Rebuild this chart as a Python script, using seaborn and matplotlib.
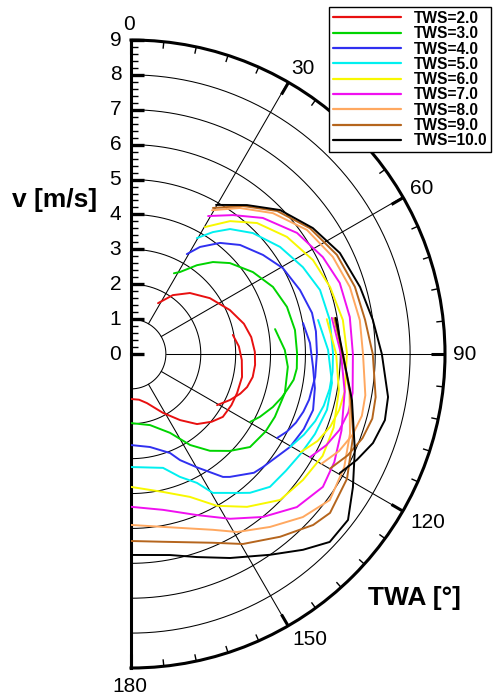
import numpy as np
import pandas as pd
import matplotlib
matplotlib.use("Agg")
import matplotlib.pyplot as plt
from matplotlib.lines import Line2D
from matplotlib.transforms import IdentityTransform
import seaborn as sns

# True wind speeds and line colours
TWS = [2.0, 3.0, 4.0, 5.0, 6.0, 7.0, 8.0, 9.0, 10.0]
COLORS = ["#e81010", "#00d400", "#3030f0", "#00f0f0", "#f8f800",
          "#f010f0", "#ffa860", "#b5651d", "#000000"]

# Upwind branch: true wind angle [deg] and boat speed [m/s]
UP_TWA = [
    [28, 35.4, 44, 54.7, 66, 75, 82, 89, 95, 100.7, 105.9, 110, 114.9, 120.7],
    [28, 30.9, 36.6, 41.7, 47.4, 56.1, 64.7, 73.2, 81.7, 89.7, 95, 99, 102, 106, 110.5, 116, 119.7],
    [29.2, 32.8, 38.7, 45, 53.1, 60.5, 69.3, 77.2, 83, 89.7, 97.1, 104.4, 108.5, 112.6, 116.5, 119.9],
    [29.6, 33.9, 38.4, 45.2, 54.3, 63.2, 71.3, 80.3, 89.7, 95, 100, 105, 110, 115, 120.3],
    [30.2, 36.7, 43.9, 53.1, 62.7, 71.4, 80.9, 89.7, 100, 105, 110, 115, 120],
    [29.2, 36.3, 44.1, 53.9, 63.2, 71.2, 80.4, 90, 100, 105, 110, 115, 120],
    [29.4, 36.7, 45.2, 54.8, 64.3, 73, 81.6, 90, 100, 105, 110, 115, 120],
    [29.3, 37.1, 45.6, 54.9, 64.3, 73.3, 81.7, 90, 100, 105, 110, 115, 120],
    [29.7, 37.9, 46, 55.3, 64.2, 73.7, 82, 90, 99.5, 104.6, 110.2, 115.1, 119.7],
]
UP_V = [
    [1.65, 2.07, 2.43, 2.77, 3.10, 3.35, 3.48, 3.55, 3.57, 3.55, 3.46, 3.33, 3.13, 2.87],
    [2.62, 2.74, 3.17, 3.53, 3.85, 4.21, 4.50, 4.67, 4.75, 4.76, 4.77, 4.72, 4.62, 4.50, 4.34, 4.11, 3.93],
    [3.28, 3.65, 4.08, 4.42, 4.73, 5.0, 5.18, 5.32, 5.34, 5.33, 5.32, 5.27, 5.21, 5.12, 4.99, 4.83],
    [3.82, 4.21, 4.57, 4.92, 5.26, 5.52, 5.72, 5.78, 5.79, 5.80, 5.78, 5.72, 5.62, 5.47, 5.28],
    [4.21, 4.75, 5.21, 5.59, 5.87, 6.02, 6.15, 6.19, 6.22, 6.18, 6.08, 5.90, 5.62],
    [4.53, 4.94, 5.43, 5.89, 6.16, 6.32, 6.36, 6.36, 6.45, 6.45, 6.36, 6.18, 5.92],
    [4.73, 5.22, 5.73, 6.17, 6.42, 6.56, 6.63, 6.65, 6.82, 6.85, 6.76, 6.58, 6.30],
    [4.80, 5.32, 5.86, 6.27, 6.55, 6.70, 6.78, 6.93, 7.12, 7.16, 7.06, 6.86, 6.58],
    [4.92, 5.41, 5.94, 6.34, 6.65, 6.84, 7.0, 7.19, 7.47, 7.52, 7.39, 7.15, 6.89],
]

# Downwind branch: true wind angle [deg] and boat speed [m/s]
DN_TWA = [
    [79.4, 86, 93.1, 101.7, 110.2, 117, 124.4, 130, 136.7, 143.4, 151.5, 162, 170, 180],
    [80.2, 88.5, 94.7, 104.2, 113.6, 120, 128, 134.4, 140.8, 147, 153.7, 165, 180],
    [79.8, 86.5, 94.1, 100.5, 107.1, 113.5, 120.3, 130.6, 134, 141.2, 143.2, 149.8, 155.2, 158.5, 168.5, 180],
    [79.7, 88.8, 98.2, 105.9, 113.5, 120, 127, 133.7, 139.4, 141.9, 149.5, 152.9, 158.3, 164.3, 180],
    [79.9, 90, 100, 110, 118, 126.2, 134.4, 142.8, 150.5, 157.6, 166.9, 180],
    [79.8, 90, 100, 110, 118, 124.7, 132.7, 141, 149, 157.7, 168.4, 180],
    [80, 90, 100, 110, 118, 126.3, 133.5, 141.2, 149.2, 155, 169.5, 180],
    [80, 90, 100, 110, 120, 128.6, 133.2, 140.8, 149.5, 156.5, 170.3, 180],
    [80, 88.9, 101.8, 113.2, 121, 127.4, 133.4, 138.7, 145.3, 154.1, 162, 169, 180],
]
DN_V = [
    [2.97, 3.10, 3.18, 3.25, 3.24, 3.23, 3.19, 3.02, 2.76, 2.36, 1.92, 1.48, 1.33, 1.29],
    [4.19, 4.41, 4.51, 4.55, 4.50, 4.45, 4.33, 3.97, 3.58, 3.11, 2.52, 2.11, 1.98],
    [5.01, 5.14, 5.23, 5.36, 5.46, 5.40, 5.28, 4.98, 4.90, 4.52, 4.40, 3.76, 3.35, 3.05, 2.72, 2.61],
    [5.45, 5.65, 5.82, 5.84, 5.75, 5.65, 5.56, 5.51, 5.24, 5.06, 4.62, 4.15, 3.79, 3.39, 3.24],
    [5.70, 5.88, 6.05, 6.18, 6.22, 6.11, 5.98, 5.50, 5.0, 4.43, 4.06, 3.81],
    [5.85, 6.02, 6.22, 6.42, 6.60, 6.69, 6.47, 6.01, 5.51, 4.99, 4.56, 4.38],
    [5.90, 6.08, 6.36, 6.68, 6.92, 7.07, 6.79, 6.36, 5.94, 5.56, 5.04, 4.90],
    [5.93, 6.06, 6.38, 6.78, 7.15, 7.30, 7.16, 6.76, 6.32, 5.90, 5.46, 5.36],
    [5.96, 6.05, 6.47, 6.98, 7.42, 7.83, 7.84, 7.47, 7.0, 6.5, 6.12, 5.87, 5.76],
]

ANGLE_TICKS = [0, 30, 60, 90, 120, 150, 180]
SPEED_TICKS = list(range(0, 10))
R_MAX = 9

sns.set_theme(style="ticks")
plt.rcParams["font.family"] = ["Liberation Sans", "DejaVu Sans"]
plt.rcParams["text.color"] = "black"

labels = [f"TWS={t:.1f}" for t in TWS]
frames = []
for lab, ut, uv, dt, dv in zip(labels, UP_TWA, UP_V, DN_TWA, DN_V):
    frames.append(pd.DataFrame({"theta": np.deg2rad(ut), "v": uv,
                                "TWS": lab, "branch": "upwind"}))
    frames.append(pd.DataFrame({"theta": np.deg2rad(dt), "v": dv,
                                "TWS": lab, "branch": "downwind"}))
df = pd.concat(frames, ignore_index=True)

W, H = 493, 698
fig = plt.figure(figsize=(W / 100, H / 100), dpi=100)
# half-disc centre (pixels from top-left) and outer radius
cx, cy, R = 131, 354, 314
side = 2 * R
ax = fig.add_axes([(cx - side / 4) / W, (H - cy - R) / H, side / W, side / H],
                  projection="polar")
ax.set_aspect("auto")
ax.set_theta_zero_location("N")
ax.set_theta_direction(-1)
ax.set_xlim(0, np.pi)
ax.set_ylim(0, R_MAX)

# grid: circles and spokes starting at r = 1
fine = np.linspace(0, np.pi, 400)
for r in range(1, R_MAX):
    ax.plot(fine, np.full_like(fine, r), color="black", lw=0.75, zorder=1)
for a in ANGLE_TICKS[1:-1]:
    ax.plot([np.deg2rad(a)] * 2, [1, R_MAX], color="black", lw=0.75, zorder=1)

sns.lineplot(data=df, x="theta", y="v", hue="TWS", hue_order=labels,
             units="branch", estimator=None, sort=False,
             palette=COLORS, linewidth=1.4, ax=ax, zorder=3)

ax.set_xlim(0, np.pi)
ax.set_ylim(0, R_MAX)
ax.grid(False)
ax.set_xlabel("")
ax.set_ylabel("")

# major angle ticks on the rim, pointing inwards
ax.set_xticks(np.deg2rad(ANGLE_TICKS))
ax.set_xticklabels([])
ax.tick_params(axis="x", which="major", bottom=False, top=True,
               direction="in", length=10, width=2.2, color="black")

# speed labels from the radial axis
ax.set_yticks(SPEED_TICKS)
ax.set_yticklabels([str(s) for s in SPEED_TICKS])
ax.tick_params(axis="y", which="major", length=0, labelsize=15,
               labelcolor="black", pad=7)


def tick_mark(theta, r, dx, dy, width):
    """Short tick starting at a data point, offset given in pixels."""
    x0, y0 = ax.transData.transform((theta, r))
    fig.add_artist(Line2D([x0, x0 + dx], [y0, y0 + dy],
                          transform=IdentityTransform(), color="black",
                          lw=width, solid_capstyle="butt", zorder=3))


# minor angle ticks every 6 degrees
for a in range(6, 180, 6):
    if a % 30:
        t = np.deg2rad(a)
        tick_mark(t, R_MAX, -7 * np.sin(t), -7 * np.cos(t), 1.0)

# speed ticks along the 0 deg edge, pointing into the plot
for r in np.round(np.arange(0, R_MAX + 0.01, 0.2), 1):
    if float(r).is_integer():
        tick_mark(0.0, r, 13, 0, 2.4)
    else:
        tick_mark(0.0, r, 7, 0, 1.0)

for name in ("polar", "start", "end"):
    ax.spines[name].set_linewidth(2.2)
    ax.spines[name].set_color("black")

# angle labels outside the rim
label_offsets = {0: (-2, 15), 30: (15, 14), 60: (19, 9), 90: (20, 0),
                 120: (25, -12), 150: (22, -14), 180: (-1, -18)}
for a in ANGLE_TICKS:
    ax.annotate(str(a), xy=(np.deg2rad(a), R_MAX), xytext=label_offsets[a],
                textcoords="offset pixels", ha="center", va="center",
                fontsize=15, annotation_clip=False)

fig.text(55 / W, 1 - 200 / H, "v [m/s]", ha="center", va="center",
         fontsize=19, fontweight="bold")
fig.text(414 / W, 1 - 598 / H, "TWA [°]", ha="center", va="center",
         fontsize=19, fontweight="bold")

handles, labs = ax.get_legend_handles_labels()
if ax.get_legend() is not None:
    ax.get_legend().remove()
leg = fig.legend(handles, labs, loc="upper right",
                 bbox_to_anchor=(491 / W, 1 - 7 / H), frameon=True,
                 fancybox=False, edgecolor="black", framealpha=1,
                 borderpad=0.25, labelspacing=0.02, handlelength=4.4,
                 handletextpad=0.8, borderaxespad=0,
                 prop={"weight": "bold", "size": 11.2})
leg.get_frame().set_linewidth(1.0)
for h in leg.get_lines():
    h.set_linewidth(1.6)

fig.savefig("out.png", dpi=100)
